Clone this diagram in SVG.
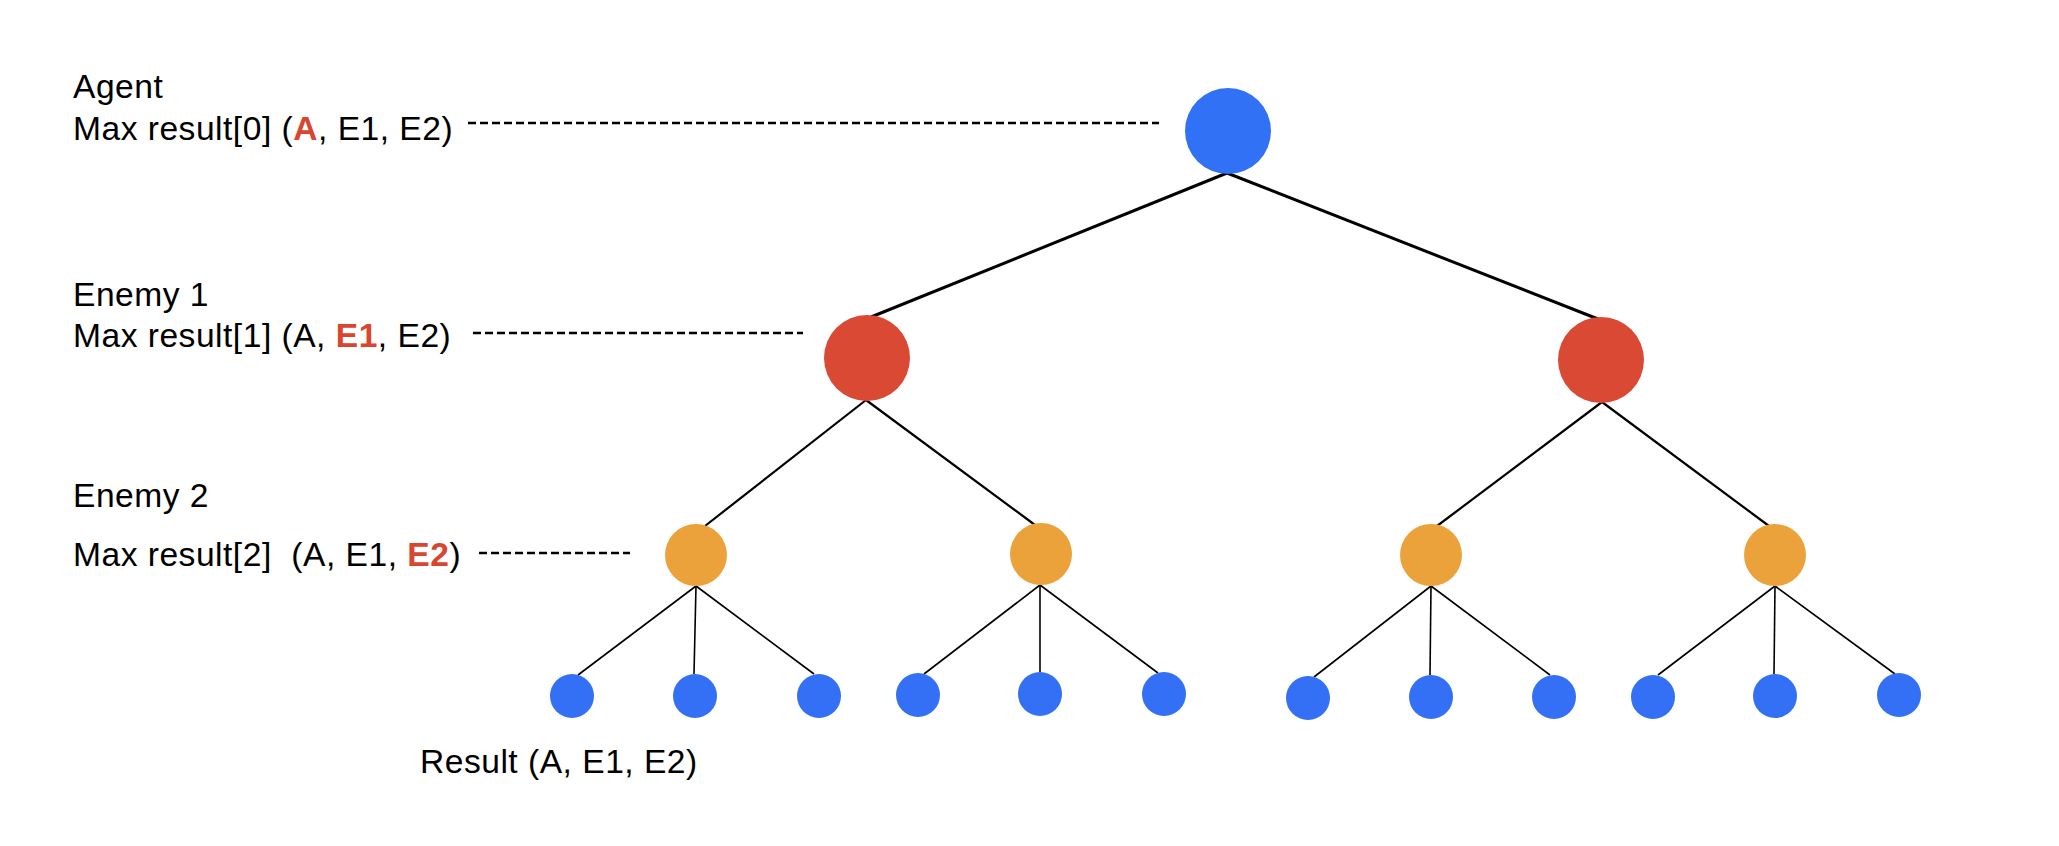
<svg xmlns="http://www.w3.org/2000/svg" width="2059" height="846" viewBox="0 0 2059 846">
  <style>
    text { font-family: "Liberation Sans", Arial, Helvetica, sans-serif; font-size: 33.6px; fill: #000; letter-spacing: 0.5px; white-space: pre; }
    .hl { font-weight: bold; fill: #D9462F; }
    .guide { stroke: #000; stroke-width: 2.5; stroke-dasharray: 8 4; fill: none; }
    .e1 { stroke: #000; stroke-width: 3; }
    .e2 { stroke: #000; stroke-width: 2.2; }
    .e3 { stroke: #000; stroke-width: 1.6; }
    .agent { fill: #3171F6; }
    .enemy1 { fill: #DA4934; }
    .enemy2 { fill: #EBA23A; }
    .leaf { fill: #3370F5; }
  </style>
  <rect width="2059" height="846" fill="#fff"/>

  <!-- level labels -->
  <g id="labels">
    <text x="73" y="98">Agent</text>
    <text x="73" y="140">Max result[0] (<tspan class="hl">A</tspan>, E1, E2)</text>
    <text x="73" y="306">Enemy 1</text>
    <text x="73" y="347">Max result[1] (A, <tspan class="hl">E1</tspan>, E2)</text>
    <text x="73" y="507">Enemy 2</text>
    <text x="73" y="566">Max result[2]  (A, E1, <tspan class="hl">E2</tspan>)</text>
    <text x="420" y="773">Result (A, E1, E2)</text>
  </g>

  <!-- connectors: dashed level guides and tree edges -->
  <g id="connectors">
    <line class="guide" x1="468" y1="123" x2="1159" y2="123"/>
    <line class="guide" x1="473" y1="333" x2="803" y2="333"/>
    <line class="guide" x1="479" y1="553" x2="630" y2="553"/>

    <line class="e1" x1="1227" y1="173" x2="871" y2="317"/>
    <line class="e1" x1="1227" y1="173" x2="1598" y2="319"/>

    <line class="e2" x1="866" y1="400" x2="705" y2="526"/>
    <line class="e2" x1="866" y1="400" x2="1035" y2="525"/>
    <line class="e2" x1="1602" y1="402" x2="1437" y2="526"/>
    <line class="e2" x1="1602" y1="402" x2="1769" y2="526"/>

    <line class="e3" x1="696" y1="586" x2="578" y2="675"/>
    <line class="e3" x1="696" y1="586" x2="694" y2="674"/>
    <line class="e3" x1="696" y1="586" x2="814" y2="674"/>
    <line class="e3" x1="1040" y1="585" x2="924" y2="674"/>
    <line class="e3" x1="1040" y1="585" x2="1040" y2="672"/>
    <line class="e3" x1="1040" y1="585" x2="1158" y2="673"/>
    <line class="e3" x1="1431" y1="586" x2="1314" y2="677"/>
    <line class="e3" x1="1431" y1="586" x2="1430" y2="675"/>
    <line class="e3" x1="1431" y1="586" x2="1550" y2="675"/>
    <line class="e3" x1="1775" y1="586" x2="1658" y2="675"/>
    <line class="e3" x1="1775" y1="586" x2="1774" y2="674"/>
    <line class="e3" x1="1775" y1="586" x2="1895" y2="674"/>
  </g>

  <!-- nodes -->
  <g id="root"><circle class="agent" cx="1228" cy="131" r="43"/></g>

  <g id="e1-left"><circle class="enemy1" cx="867" cy="358" r="43"/></g>
  <g id="e1-right"><circle class="enemy1" cx="1601" cy="360" r="43"/></g>

  <g id="e2-1"><circle class="enemy2" cx="696" cy="555" r="31"/></g>
  <g id="e2-2"><circle class="enemy2" cx="1041" cy="554" r="31"/></g>
  <g id="e2-3"><circle class="enemy2" cx="1431" cy="555" r="31"/></g>
  <g id="e2-4"><circle class="enemy2" cx="1775" cy="555" r="31"/></g>

  <g id="leaf-1"><circle class="leaf" cx="572" cy="696" r="22"/></g>
  <g id="leaf-2"><circle class="leaf" cx="695" cy="696" r="22"/></g>
  <g id="leaf-3"><circle class="leaf" cx="819" cy="696" r="22"/></g>
  <g id="leaf-4"><circle class="leaf" cx="918" cy="695" r="22"/></g>
  <g id="leaf-5"><circle class="leaf" cx="1040" cy="694" r="22"/></g>
  <g id="leaf-6"><circle class="leaf" cx="1164" cy="694" r="22"/></g>
  <g id="leaf-7"><circle class="leaf" cx="1308" cy="698" r="22"/></g>
  <g id="leaf-8"><circle class="leaf" cx="1431" cy="697" r="22"/></g>
  <g id="leaf-9"><circle class="leaf" cx="1554" cy="697" r="22"/></g>
  <g id="leaf-10"><circle class="leaf" cx="1653" cy="697" r="22"/></g>
  <g id="leaf-11"><circle class="leaf" cx="1775" cy="696" r="22"/></g>
  <g id="leaf-12"><circle class="leaf" cx="1899" cy="695" r="22"/></g>
</svg>
